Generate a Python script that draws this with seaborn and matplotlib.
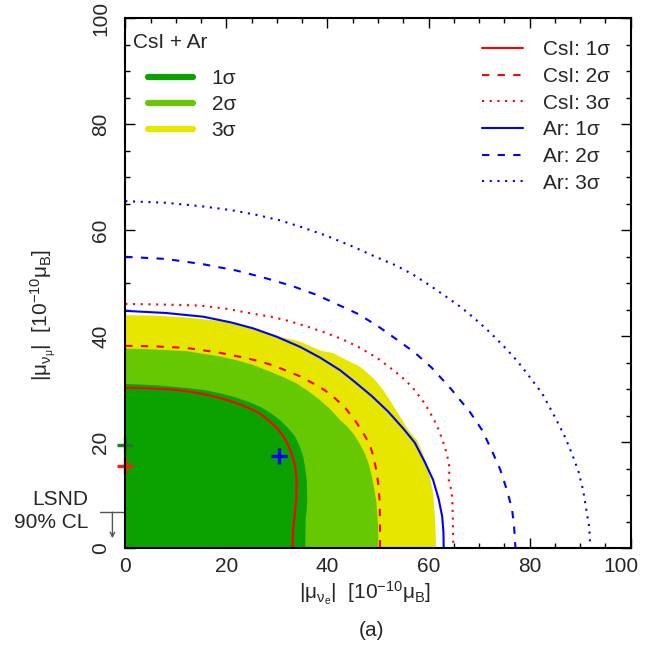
import matplotlib
matplotlib.use("Agg")
import matplotlib.pyplot as plt
import matplotlib.transforms as mtrans
import seaborn as sns
from matplotlib.lines import Line2D
from matplotlib.ticker import MultipleLocator

# ---------------- data ----------------
tick_values = [0, 20, 40, 60, 80, 100]
tick_labels = ["0", "20", "40", "60", "80", "100"]

# combined CsI + Ar allowed regions (outer boundaries)
comb1_x = [35.6, 35.7, 35.9, 36.0, 35.9, 35.6, 35.2, 34.5, 33.6, 32.2, 30.6, 28.8, 26.7,
           24.2, 21.4, 18.5, 15.4, 10.5, 5.5, 0.0]
comb1_y = [0.0, 5.5, 7.3, 9.1, 12.9, 15.2, 17.3, 19.3, 21.1, 22.7, 24.2, 25.5, 26.7,
           27.7, 28.6, 29.3, 29.9, 30.4, 30.8, 31.0]
comb2_x = [50.1, 50.0, 49.7, 49.3, 48.8, 48.2, 47.4, 46.4, 45.3, 44.0, 42.5, 40.6, 38.5,
           36.3, 33.9, 31.5, 29.0, 25.3, 22.0, 18.7, 12.1, 6.0, 0.0]
comb2_y = [0.0, 4.5, 8.5, 11.0, 13.5, 15.8, 17.9, 19.7, 21.4, 22.9, 24.2, 26.2, 28.0,
           29.6, 31.1, 32.2, 33.2, 34.6, 35.5, 36.2, 37.2, 37.5, 37.7]
comb3_x = [61.5, 61.3, 60.9, 60.3, 59.6, 58.7, 57.7, 56.0, 54.4, 52.7, 51.0, 49.1, 46.4,
           43.8, 41.2, 38.6, 34.6, 30.6, 25.3, 18.7, 11.5, 5.5, 0.0]
comb3_y = [0.0, 5.3, 10.4, 13.3, 16.0, 18.3, 20.4, 22.3, 24.8, 27.4, 29.9, 32.1, 34.3,
           35.5, 36.8, 37.3, 39.0, 39.9, 41.5, 42.9, 43.6, 43.9, 44.0]

# CsI contours
csi1_x = [0.0, 4.0, 8.8, 12.5, 15.4, 18.2, 20.7, 23.1, 25.3, 27.1, 28.6, 30.1, 31.3,
          32.2, 32.9, 33.4, 33.7, 33.9, 33.9, 33.8, 33.6, 33.4, 33.2, 33.1]
csi1_y = [30.3, 30.2, 30.0, 29.6, 29.1, 28.5, 27.8, 27.0, 26.1, 25.1, 23.9, 22.6, 21.1,
          19.5, 17.9, 16.3, 14.8, 12.9, 11.0, 9.1, 7.2, 5.3, 3.5, 0.0]
csi2_x = [0.0, 6.0, 12.1, 18.1, 23.4, 26.5, 29.3, 31.9, 34.7, 37.2, 39.5, 41.5, 43.6,
          45.4, 47.0, 48.4, 49.2, 49.7, 50.1, 50.3, 50.4, 50.4]
csi2_y = [38.2, 38.1, 37.8, 37.0, 36.0, 35.3, 34.5, 33.5, 32.4, 31.1, 29.8, 28.3, 26.4,
          24.2, 21.9, 19.5, 17.0, 14.5, 11.8, 9.1, 5.0, 0.0]
csi3_x = [0.0, 7.0, 14.8, 20.0, 25.0, 28.8, 32.3, 35.8, 39.2, 42.8, 46.1, 49.7, 53.2,
          55.3, 56.8, 58.0, 59.1, 60.0, 61.0, 61.9, 62.7, 63.4, 63.9, 64.2, 63.9, 64.4,
          64.7, 64.8, 64.9]
csi3_y = [46.1, 46.0, 45.8, 45.2, 44.3, 43.7, 42.9, 41.9, 40.8, 39.5, 38.0, 36.0, 33.5,
          31.8, 30.4, 28.9, 27.5, 26.1, 24.4, 22.6, 20.6, 18.5, 16.6, 14.8, 13.3, 11.4,
          9.4, 5.7, 0.0]

# Ar contours
ar1_x = [0.0, 8.0, 15.4, 21.0, 25.3, 30.0, 34.6, 38.5, 42.5, 45.4, 48.8, 52.0, 55.0,
         57.3, 59.3, 60.9, 62.0, 62.7, 62.95, 63.0]
ar1_y = [44.8, 44.4, 43.7, 42.6, 41.5, 39.9, 38.0, 36.0, 33.6, 31.4, 28.7, 25.8, 22.6,
         19.9, 16.2, 12.9, 9.3, 6.0, 3.0, 0.0]
ar2_x = [0.0, 8.0, 15.4, 22.0, 27.3, 33.0, 37.9, 42.0, 46.1, 50.0, 53.7, 57.3, 60.6,
         64.5, 68.2, 70.6, 72.5, 74.2, 75.5, 76.5, 76.9, 77.2]
ar2_y = [55.0, 54.6, 53.6, 52.4, 51.1, 49.5, 47.8, 46.0, 44.2, 41.9, 39.4, 36.9, 34.1,
         30.0, 25.7, 22.3, 18.5, 14.8, 11.0, 7.5, 4.5, 0.0]
ar3_x = [0.0, 8.0, 15.4, 21.0, 26.0, 30.5, 34.9, 40.0, 45.1, 49.5, 53.5, 57.0, 60.1,
         63.3, 66.4, 69.3, 72.2, 75.0, 77.5, 79.4, 82.5, 85.2, 87.0, 88.4, 89.7, 90.6,
         91.4, 91.8, 92.0]
ar3_y = [65.5, 65.2, 64.5, 63.8, 62.9, 61.9, 60.6, 58.9, 56.9, 55.0, 53.4, 51.6, 49.7,
         47.6, 45.5, 43.2, 40.7, 38.0, 35.4, 33.1, 29.2, 24.4, 21.0, 17.8, 14.4, 10.9,
         6.2, 4.0, 0.0]

# best-fit / reference points
best_x = [30.4, 0.0, 0.0]
best_y = [17.4, 19.4, 15.6]
best_colors = ["#0000ff", "#237a23", "#ff1a1a"]

lsnd_limit = 6.8

left_title = "CsI + Ar"
left_labels = ["1σ", "2σ", "3σ"]
right_labels = ["CsI: 1σ", "CsI: 2σ", "CsI: 3σ", "Ar: 1σ", "Ar: 2σ", "Ar: 3σ"]

# ---------------- style ----------------
sns.set_style("ticks")
plt.rcParams["font.family"] = ["Liberation Sans", "DejaVu Sans"]
plt.rcParams["mathtext.fontset"] = "custom"
plt.rcParams["mathtext.rm"] = "Liberation Sans"
plt.rcParams["mathtext.it"] = "Liberation Sans:italic"
plt.rcParams["mathtext.bf"] = "Liberation Sans:bold"
FS = 15

C_DARK = "#0ba200"
C_MID = "#66c800"
C_YEL = "#e6e600"
RED = "#ff0000"
BLUE = "#0000ff"
DASH = (0, (3.5, 4))
DOT = (0, (1, 2.7))

fig = plt.figure(figsize=(6.46, 6.60), dpi=100)
ax = fig.add_axes([125.3 / 646, 1 - 548.3 / 660, 505.4 / 646, 530 / 660])

# filled combined regions
for bx, by, col in [(comb3_x, comb3_y, C_YEL), (comb2_x, comb2_y, C_MID), (comb1_x, comb1_y, C_DARK)]:
    ax.fill(list(bx) + [0.0], list(by) + [0.0], color=col, lw=0, zorder=1)

# contours
LW = 1.5
for xs, ys, col, ls in [
    (csi1_x, csi1_y, RED, "-"), (csi2_x, csi2_y, RED, DASH), (csi3_x, csi3_y, RED, DOT),
    (ar1_x, ar1_y, BLUE, "-"), (ar2_x, ar2_y, BLUE, DASH), (ar3_x, ar3_y, BLUE, DOT),
]:
    sns.lineplot(x=xs, y=ys, sort=False, estimator=None, color=col, linestyle=ls,
                 lw=LW, ax=ax, legend=False, zorder=3)

# markers
for x, y, c in zip(best_x, best_y, best_colors):
    sns.scatterplot(x=[x], y=[y], marker="+", s=140, color=c, linewidth=2.4,
                    ax=ax, legend=False, zorder=5, clip_on=False)

ax.set_xlim(0, 100)
ax.set_ylim(0, 100)
ax.set_xticks(tick_values)
ax.set_xticklabels(tick_labels)
ax.set_yticks(tick_values)
ax.set_yticklabels(tick_labels)
ax.xaxis.set_minor_locator(MultipleLocator(5))
ax.yaxis.set_minor_locator(MultipleLocator(5))
ax.tick_params(which="both", direction="in", top=True, right=True, width=1.0,
               color="black", labelsize=FS)
ax.tick_params(which="major", length=7.2)
ax.tick_params(which="minor", length=3.6)
ax.tick_params(axis="x", pad=6)
ax.tick_params(axis="y", pad=11)
for lbl in ax.get_yticklabels():
    lbl.set_rotation(90)
    lbl.set_va("center")
    lbl.set_ha("right")
# last x tick label sits a little inside the edge, as in the reference
last = ax.get_xticklabels()[-1]
last.set_transform(last.get_transform() + mtrans.ScaledTranslation(-10 / 100, 0, fig.dpi_scale_trans))
for sp in ax.spines.values():
    sp.set_linewidth(1.5)
    sp.set_color("black")
    sp.set_zorder(6)
ax.set_xlabel("")
ax.set_ylabel("")

# axis labels
fig.text(365 / 646, 1 - 593 / 660, r"$\mathregular{|μ_{ν_e}|\ \ [10^{-10}μ_B]}$",
         ha="center", va="center", fontsize=FS)
fig.text(43 / 646, 1 - 315 / 660, r"$\mathregular{|μ_{ν_μ}|\ \ [10^{-10}μ_B]}$",
         ha="center", va="center", fontsize=FS, rotation=90)
fig.text(371 / 646, 1 - 630 / 660, "(a)", ha="center", va="center", fontsize=FS)

# LSND annotation
fig.text(88 / 646, 1 - 499.5 / 660, "LSND", ha="right", va="center", fontsize=FS)
fig.text(88 / 646, 1 - 523 / 660, "90% CL", ha="right", va="center", fontsize=FS)
ax.plot([-5, 0], [lsnd_limit, lsnd_limit], color="#555555", lw=1.0, clip_on=False)
ax.annotate("", xy=(-2.55, 1.9), xytext=(-2.55, lsnd_limit), annotation_clip=False,
            arrowprops=dict(arrowstyle="->", color="#555555", lw=1.0,
                            shrinkA=0, shrinkB=0, mutation_scale=8))

# left legend (combined)
ax.text(0.0153, (548.3 - 43) / 530, left_title, transform=ax.transAxes,
        ha="left", va="center", fontsize=FS)
lh = [Line2D([], [], color=c, lw=4.5, solid_capstyle="round") for c in [C_DARK, C_MID, C_YEL]]
leg1 = ax.legend(lh, left_labels, loc="upper left", bbox_to_anchor=(0.045, 0.904),
                 frameon=False, fontsize=FS, handlelength=2.15, handletextpad=0.9,
                 labelspacing=0.34, borderpad=0, borderaxespad=0)
ax.add_artist(leg1)

# right legend (individual)
rh = [Line2D([], [], color=RED, lw=LW, ls="-"), Line2D([], [], color=RED, lw=LW, ls=DASH),
      Line2D([], [], color=RED, lw=LW, ls=DOT), Line2D([], [], color=BLUE, lw=LW, ls="-"),
      Line2D([], [], color=BLUE, lw=LW, ls=DASH), Line2D([], [], color=BLUE, lw=LW, ls=DOT)]
ax.legend(rh, right_labels, loc="upper left", bbox_to_anchor=(0.706, 0.9586),
          frameon=False, fontsize=FS, handlelength=1.97, handletextpad=0.95,
          labelspacing=0.37, borderpad=0, borderaxespad=0)

fig.savefig("out.png", dpi=100)
